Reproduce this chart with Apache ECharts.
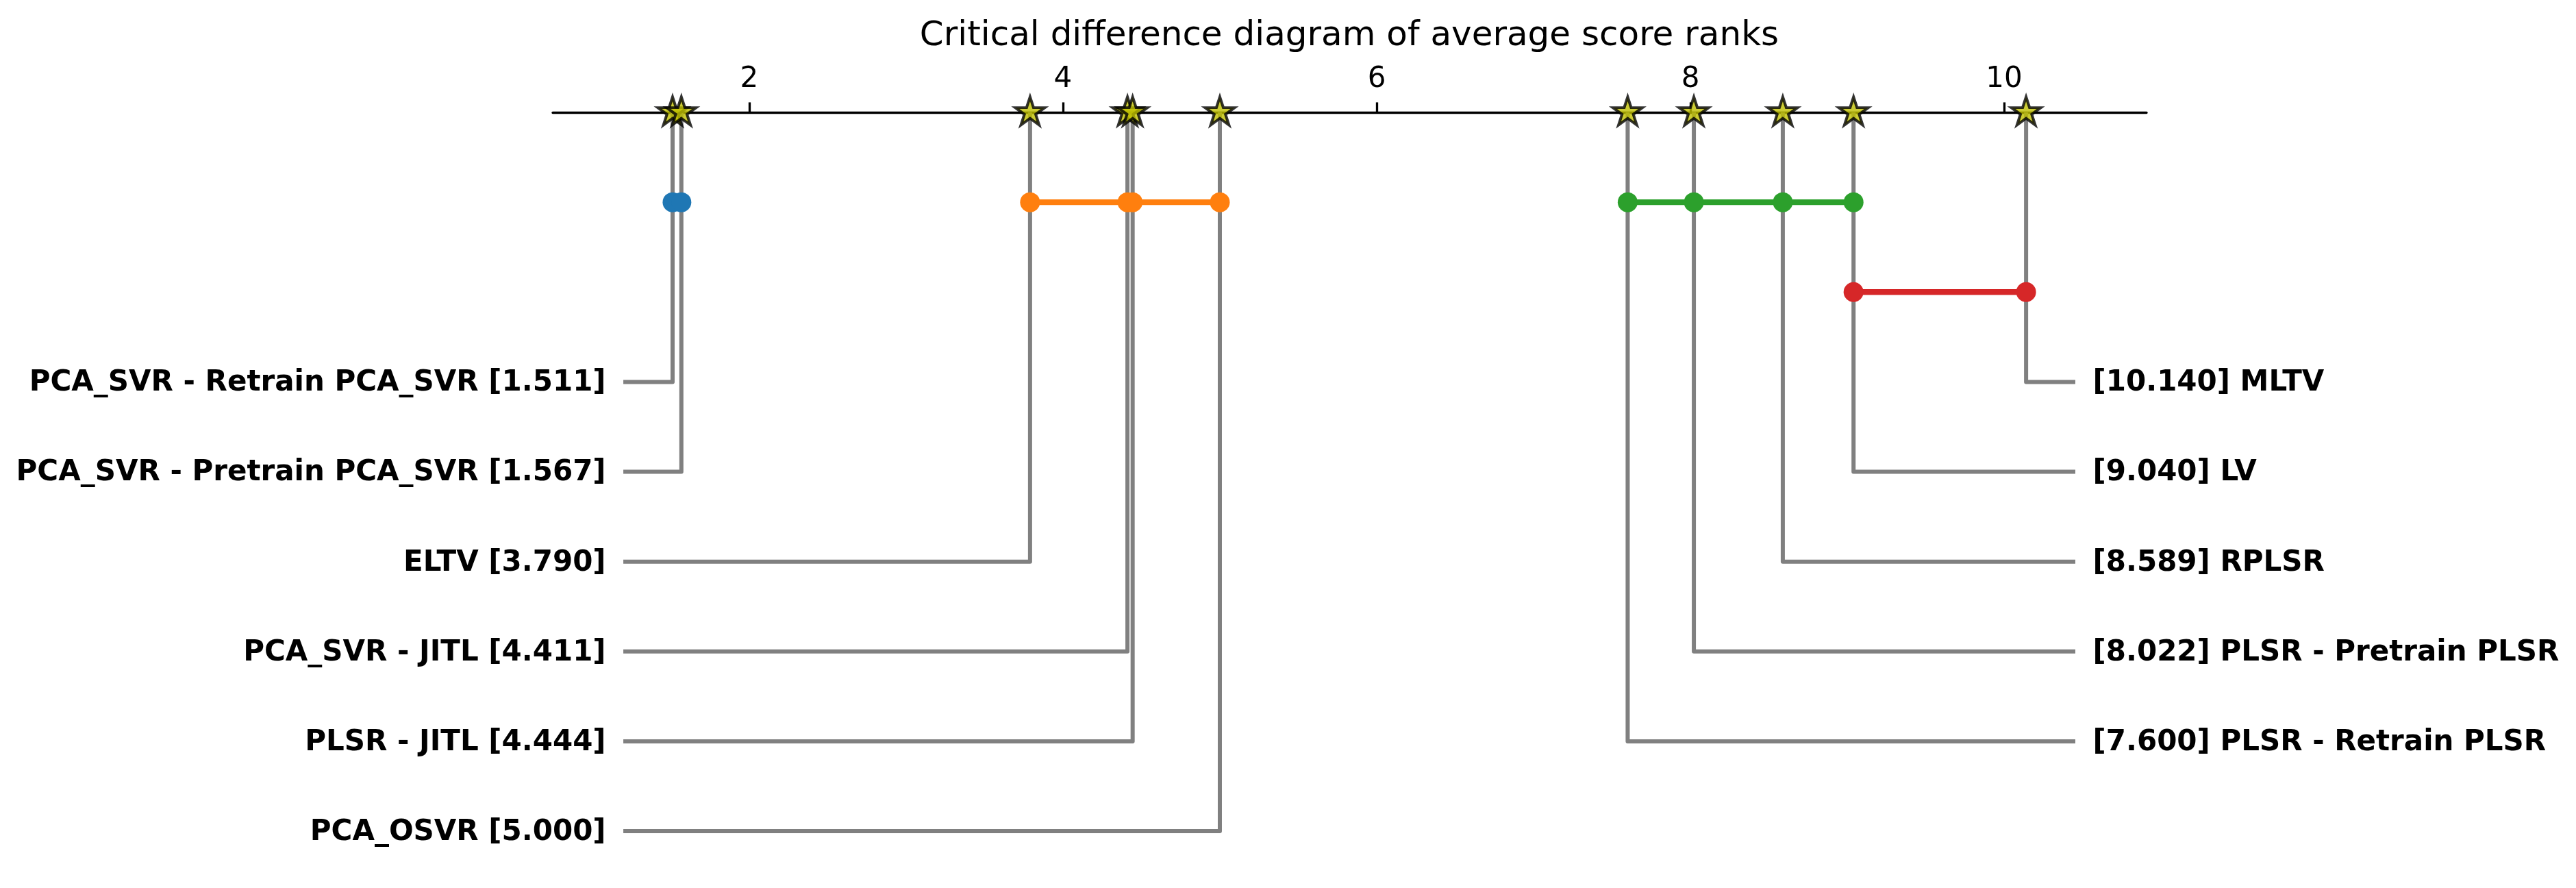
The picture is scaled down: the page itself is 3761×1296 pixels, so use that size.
<!DOCTYPE html>
<html>
<head>
<meta charset="utf-8">
<title>Critical difference diagram</title>
<script src="https://cdn.jsdelivr.net/npm/echarts@6/dist/echarts.min.js"></script>
<style>
	html, body { margin: 0; padding: 0; background: #fff; }
	#chart { width: 3761px; height: 1296px; }
</style>
</head>
<body>
<div id="chart"></div>
<script>
// methods sorted by average rank
const methods = [
	'PCA_SVR - Retrain PCA_SVR',
	'PCA_SVR - Pretrain PCA_SVR',
	'ELTV',
	'PCA_SVR - JITL',
	'PLSR - JITL',
	'PCA_OSVR',
	'PLSR - Retrain PLSR',
	'PLSR - Pretrain PLSR',
	'RPLSR',
	'LV',
	'MLTV'
];
const ranks = [1.511, 1.567, 3.790, 4.411, 4.444, 5.000, 7.600, 8.022, 8.589, 9.040, 10.140];
const xTicks = [2, 4, 6, 8, 10];

// cliques of methods that are not significantly different (indexes into methods)
const cliques = [[0, 1], [2, 3, 4, 5], [6, 7, 8, 9], [9, 10]];
const cliqueRows = [1, 1, 1, 2];
const cliqueColors = ['#1f77b4', '#ff7f0e', '#2ca02c', '#d62728'];

( function() {

	const FONT = 'DejaVu Sans';
	const axisMin = 0.747, axisMax = 10.908;
	const leftEdge = 1.197, rightEdge = 10.454; // where the label lines stop
	const firstRow = 3, lastRow = 8;
	const nLeft = Math.ceil(methods.length / 2);

	const starPath = function() {
		let d = '';
		for(let i = 0; i < 10; i++) {
			const r = ( i % 2 === 0 ) ? 1 : 0.381966;
			const a = Math.PI / 2 + i * Math.PI / 5;
			d += ( i ? 'L' : 'M' ) + (r * Math.cos(a)).toFixed(5) + ',' + (-r * Math.sin(a)).toFixed(5) + ' ';
		}
		return 'path://' + d + 'Z';
	}

	const rowOf = i => ( i < nLeft ) ? firstRow + i : firstRow + (methods.length - 1 - i);
	const edgeOf = i => ( i < nLeft ) ? leftEdge : rightEdge;

	const connectors = methods.map((m, i) => ({
		coords: [[ranks[i], 0], [ranks[i], rowOf(i)], [edgeOf(i), rowOf(i)]]
	}));

	const labelPoint = function(side) {
		const data = [];
		methods.forEach((m, i) => {
			const isLeft = i < nLeft;
			if( isLeft !== (side === 'left') ) return;
			data.push({
				value: [edgeOf(i), rowOf(i)],
				label: {
					formatter: isLeft ? m + ' [' + ranks[i].toFixed(3) + ']' : '[' + ranks[i].toFixed(3) + '] ' + m
				}
			});
		});
		return {
			type: 'scatter',
			symbolSize: 1,
			itemStyle: { color: 'rgba(255,255,255,0)', opacity: 1 },
			silent: true,
			z: 5,
			label: {
				show: true,
				position: side,
				distance: 25,
				color: '#000000',
				opacity: 1,
				textBorderWidth: 0,
				fontFamily: FONT,
				fontWeight: 'bold',
				fontSize: 42,
				offset: [0, 2]
			},
			data: data
		};
	}

	const cliqueSeries = cliques.map((members, k) => ({
		type: 'line',
		data: members.map(i => [ranks[i], cliqueRows[k]]),
		symbol: 'circle',
		symbolSize: 29,
		showSymbol: true,
		color: cliqueColors[k],
		itemStyle: { color: cliqueColors[k] },
		lineStyle: { color: cliqueColors[k], width: 8.3 },
		z: 6,
		silent: true
	}));

	const option = {
		animation: false,
		backgroundColor: '#fff',
		title: {
			text: 'Critical difference diagram of average score ranks',
			left: 1970,
			top: 28,
			padding: 0,
			textAlign: 'center',
			textStyle: { fontFamily: FONT, fontWeight: 'normal', fontSize: 50, color: '#000', lineHeight: 50 }
		},
		grid: { left: 807, right: 627, top: 164, bottom: 83 },
		xAxis: {
			type: 'value',
			position: 'top',
			min: axisMin,
			max: axisMax,
			splitLine: { show: false },
			axisLine: { show: true, onZero: false, lineStyle: { color: '#000', width: 3.3 } },
			axisTick: { show: true, length: 14.6, customValues: xTicks, lineStyle: { color: '#000', width: 3.3 } },
			axisLabel: {
				customValues: xTicks,
				margin: 27,
				color: '#000',
				fontFamily: FONT,
				fontSize: 42,
				lineHeight: 42
			}
		},
		yAxis: { type: 'value', min: 0, max: lastRow, inverse: true, show: false },
		series: [
			{
				type: 'lines',
				coordinateSystem: 'cartesian2d',
				polyline: true,
				silent: true,
				z: 3,
				lineStyle: { color: '#808080', width: 6, opacity: 1, join: 'round' },
				data: connectors
			},
			...cliqueSeries,
			{
				type: 'scatter',
				symbol: starPath(),
				symbolSize: [43, 41],
				symbolOffset: [0, -2],
				itemStyle: { color: '#bfbf00', borderColor: '#000', borderWidth: 4 },
				silent: true,
				z: 8,
				data: ranks.map(r => [r, 0])
			},
			labelPoint('left'),
			labelPoint('right')
		]
	};

	document.addEventListener("DOMContentLoaded", function() {
		const myChart = echarts.init(document.getElementById('chart'));
		myChart.setOption(option);
	});

}() );
</script>
</body>
</html>
